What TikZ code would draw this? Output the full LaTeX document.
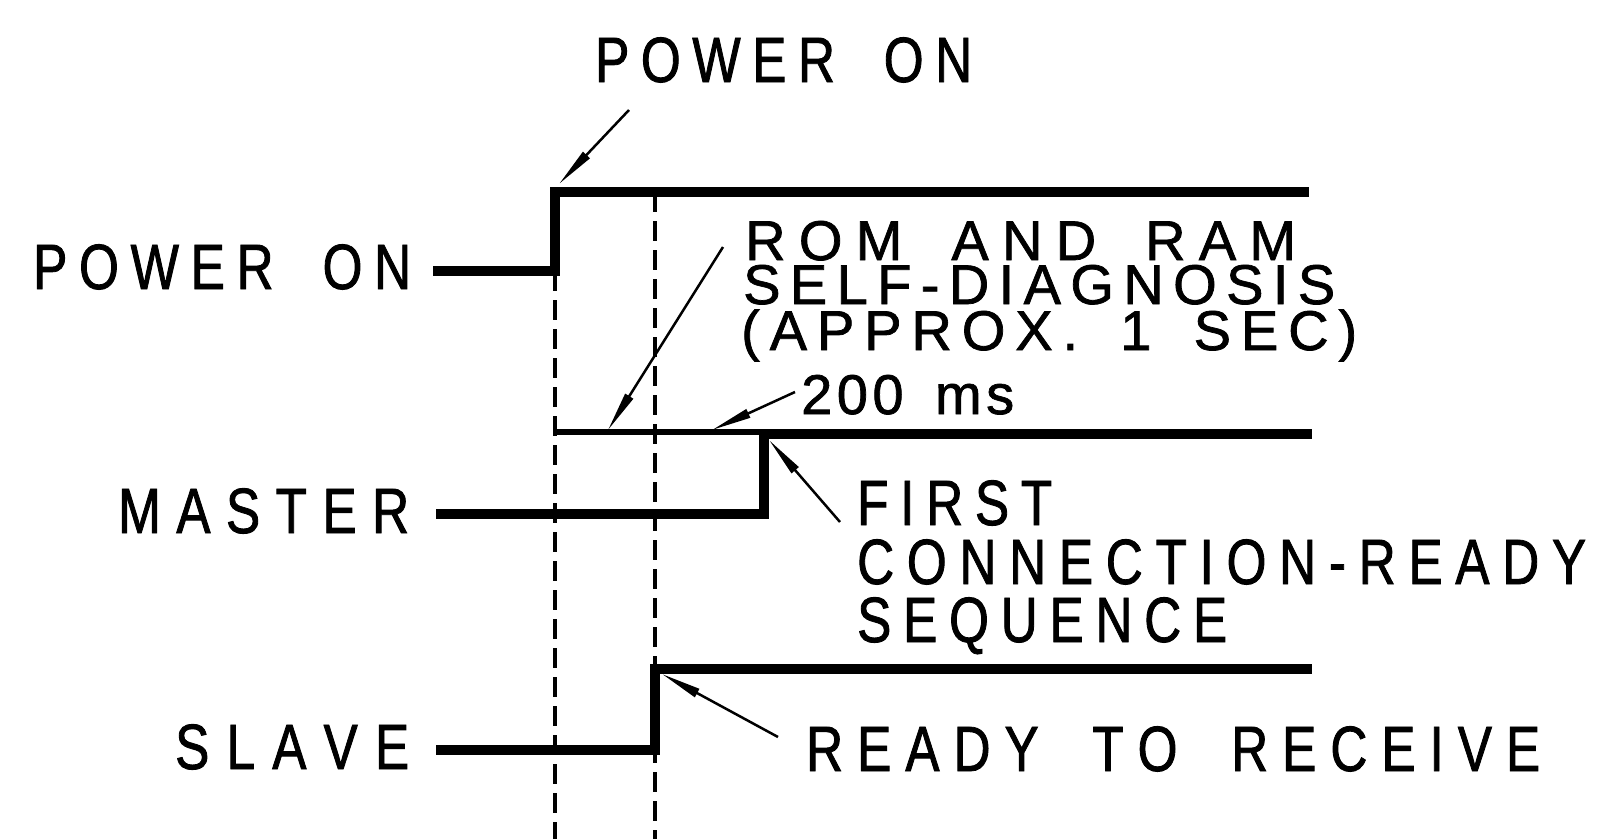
\documentclass[tikz,border=0pt]{standalone}
\usepackage{fontspec}
\setmainfont{Liberation Sans}
\newfontfamily\bigf{Liberation Sans}[FakeStretch=0.8,FakeBold=1.3]
\newfontfamily\romf{Liberation Sans}[FakeStretch=1.0,FakeBold=1.3]
\usetikzlibrary{arrows.meta}
\ExplSyntaxOn
\NewDocumentCommand \spreadtext { m m }
  {
    \makebox [ #1 ] [ s ]
      {
        \tl_map_inline:nn { #2 }
          {
            \tl_if_eq:nnTF { ##1 } { | }
              { \hskip 0.4em plus 1fil \relax }
              { ##1 \hfil }
          }
        \hfilneg
      }
  }
\ExplSyntaxOff
\tikzset{
  big/.style={font=\bigf\fontsize{64}{64}\selectfont, inner sep=0pt, anchor=base west},
  rom/.style={font=\romf\fontsize{56}{56}\selectfont, inner sep=0pt, anchor=base west},
  sig/.style={line width=10.5pt, line join=miter},
  sigthin/.style={line width=6pt},
  dashline/.style={line width=4.5pt, dash pattern=on 20pt off 9pt},
  leader/.style={line width=2.5pt, -{Stealth[length=40pt,width=9pt,inset=0pt]}}
}
\begin{document}
\begin{tikzpicture}[x=1pt,y=-1pt]
\useasboundingbox (0,0) rectangle (1610,839);
% dashed markers
\draw[dashline] (555,271) -- (555,839);
\draw[dashline] (655,192) -- (655,839);
% signals
\draw[sig] (433,271) -- (555,271) -- (555,192) -- (1309,192);
\draw[sigthin] (555,432) -- (764,432);
\draw[sig] (436,514) -- (764,514) -- (764,434) -- (1312,434);
\draw[sig] (436,750) -- (655,750) -- (655,669) -- (1312,669);
% labels
\node[big] (toppower) at (595,82) {\spreadtext{377pt}{POWER|ON}};
\node[big] (lpower) at (33,289) {\spreadtext{378pt}{POWER|ON}};
\node[big] (lmaster) at (118,533) {\spreadtext{291pt}{MASTER}};
\node[big] (lslave) at (175,769) {\spreadtext{234pt}{SLAVE}};
\node[rom] (rom1) at (745,260) {\spreadtext{551pt}{ROM|AND|RAM}};
\node[rom] (rom2) at (743,304) {\spreadtext{592pt}{SELF-DIAGNOSIS}};
\node[rom] (rom3) at (741,350) {\spreadtext{616pt}{(APPROX.|1|SEC)}};
\node[rom] (ms) at (801,414) {\spreadtext{213pt}{200|ms}};
\node[big] (first1) at (857,525) {\spreadtext{195pt}{FIRST}};
\node[big] (first2) at (857,584) {\spreadtext{729pt}{CONNECTION-READY}};
\node[big] (first3) at (857,642) {\spreadtext{370pt}{SEQUENCE}};
\node[big] (ready) at (806,771) {\spreadtext{734pt}{READY|TO|RECEIVE}};
% leader ends
\coordinate (pTail) at (629,110);
\coordinate (pTip) at (559,184);
\coordinate (rTail) at (723,247);
\coordinate (rTip) at (608,430);
\coordinate (mTail) at (795,392);
\coordinate (mTip) at (712,430);
\coordinate (fTail) at (840,522);
\coordinate (fTip) at (769,440);
\coordinate (sTail) at (778,737);
\coordinate (sTip) at (662,674);
\draw[leader] (pTail) -- (pTip);
\draw[leader] (rTail) -- (rTip);
\draw[leader] (mTail) -- (mTip);
\draw[leader] (fTail) -- (fTip);
\draw[leader] (sTail) -- (sTip);
\end{tikzpicture}
\end{document}
